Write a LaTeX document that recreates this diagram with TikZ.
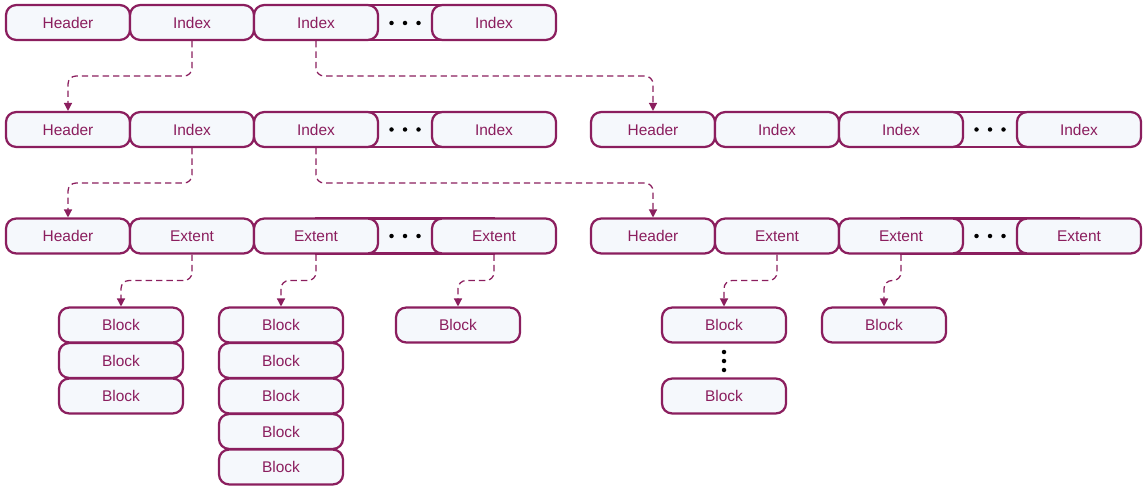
\documentclass[tikz,border=0pt]{standalone}
\usepackage{fontspec}
\setmainfont{Liberation Sans}
\usetikzlibrary{arrows.meta}
\definecolor{plum}{HTML}{8B1E5E}
\definecolor{paper}{HTML}{F5F8FC}

\begin{document}
\begin{tikzpicture}[x=0.025cm,y=-0.025cm,
    cell/.style={draw=plum,fill=paper,line width=1.6pt,rounded corners=0.25cm,
      minimum width=3.1cm,minimum height=0.87cm,inner sep=0pt,
      text=plum,font=\fontsize{11}{13}\selectfont},
    strip/.style={draw=plum,fill=paper,line width=1.6pt},
    link/.style={draw=plum,line width=0.9pt,dash pattern=on 0.16cm off 0.1cm,
      rounded corners=0.2cm,-{Triangle[length=0.2cm,width=0.2cm]}}]%
    \useasboundingbox (0,0) rectangle (1146,486);
    % strips behind the dots
    \draw[strip] (316,5.1) rectangle (494,39.9);
    \foreach \y in {112.1,218.6} {%
        \draw[strip] (316,\y) rectangle (494,\y+34.8);
        \draw[strip] (901,\y) rectangle (1079,\y+34.8);
    }
    \begin{scope}[every node/.style={cell}]%
    % top level
    \node (r1h) at (68,22.5)  {Header};
    \node (r1a) at (192,22.5) {Index};
    \node (r1b) at (316,22.5) {Index};
    \node (r1c) at (494,22.5) {Index};
    % second level
    \node (r2h) at (68,129.5)  {Header};
    \node (r2a) at (192,129.5) {Index};
    \node (r2b) at (316,129.5) {Index};
    \node (r2c) at (494,129.5) {Index};
    \node (s2h) at (653,129.5)  {Header};
    \node (s2a) at (777,129.5)  {Index};
    \node (s2b) at (901,129.5)  {Index};
    \node (s2c) at (1079,129.5) {Index};
    % leaves
    \node (r3h) at (68,236)  {Header};
    \node (r3a) at (192,236) {Extent};
    \node (r3b) at (316,236) {Extent};
    \node (r3c) at (494,236) {Extent};
    \node (s3h) at (653,236)  {Header};
    \node (s3a) at (777,236)  {Extent};
    \node (s3b) at (901,236)  {Extent};
    \node (s3c) at (1079,236) {Extent};
    % blocks
    \foreach \k in {1,...,3}
        \node (b1\k) at (121,{289.5+35.5*\k}) {Block};
    \foreach \k in {1,...,5}
        \node (b2\k) at (281,{289.5+35.5*\k}) {Block};
    \node (b31) at (458,325) {Block};
    \node (b41) at (724,325) {Block};
    \node (b42) at (724,396) {Block};
    \node (b51) at (884,325) {Block};
    \end{scope}
    % dots
    \foreach \x in {391.5,405,418.5} {%
        \fill (\x,23) circle (1.6pt);
        \fill (\x,129.5) circle (1.6pt);
        \fill (\x,236) circle (1.6pt);
    }
    \foreach \x in {976.5,990,1003.5} {%
        \fill (\x,129.5) circle (1.6pt);
        \fill (\x,236) circle (1.6pt);
    }
    \foreach \y in {352,361,370}
        \fill (724,\y) circle (1.6pt);
    % links
    \draw[link] (r1a.south) -- ++(0,35) -| (r2h.north);
    \draw[link] (r1b.south) -- ++(0,35) -| (s2h.north);
    \draw[link] (r2a.south) -- ++(0,35) -| (r3h.north);
    \draw[link] (r2b.south) -- ++(0,35) -| (s3h.north);
    \draw[link] (r3a.south) -- ++(0,26) -| (b11.north);
    \draw[link] (r3b.south) -- ++(0,26) -| (b21.north);
    \draw[link] (r3c.south) -- ++(0,26) -| (b31.north);
    \draw[link] (s3a.south) -- ++(0,26) -| (b41.north);
    \draw[link] (s3b.south) -- ++(0,26) -| (b51.north);
\end{tikzpicture}
\end{document}
